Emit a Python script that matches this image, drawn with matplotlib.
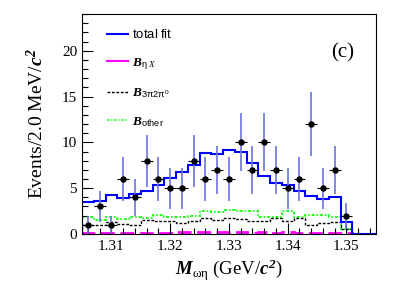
import numpy as np
from matplotlib import pyplot as plt
from matplotlib.lines import Line2D
from matplotlib.ticker import MultipleLocator

plt.rcParams["font.family"] = "Liberation Serif"
plt.rcParams["mathtext.fontset"] = "custom"
plt.rcParams["mathtext.rm"] = "Liberation Serif"
plt.rcParams["mathtext.it"] = "Liberation Serif:italic"
plt.rcParams["mathtext.bf"] = "Liberation Serif:bold"
plt.rcParams["mathtext.bfit"] = "Liberation Serif:italic:bold"
plt.rcParams["mathtext.sf"] = "Liberation Sans"

# bin edges, 2 MeV bins
EDGES = np.round(np.arange(1.305, 1.3551, 0.002), 4)

# data points (bin centres up to 1.350)
DATA_X = [1.306, 1.308, 1.310, 1.312, 1.314, 1.316, 1.318, 1.320, 1.322, 1.324,
          1.326, 1.328, 1.330, 1.332, 1.334, 1.336, 1.338, 1.340, 1.342, 1.344,
          1.346, 1.348, 1.350]
DATA_Y = [1, 3, 1, 6, 4, 8, 6, 5, 5, 8, 6, 7, 6, 10, 7, 10, 7, 5, 6, 12, 5, 7, 2]

TOTAL_FIT = [3.5, 3.6, 4.3, 3.9, 4.4, 4.7, 5.4, 6.1, 6.8, 7.5, 8.8, 8.7, 9.2,
             8.9, 7.7, 6.3, 5.6, 5.3, 4.7, 4.2, 3.8, 4.0, 1.3, 0.0, 0.0]
B_ETAX = [0.1, 0.1, 0.15, 0.1, 0.15, 0.1, 0.15, 0.15, 0.2, 0.2, 0.25, 0.2, 0.2,
          0.2, 0.15, 0.2, 0.15, 0.2, 0.15, 0.15, 0.15, 0.15, 0.1, 0.0, 0.0]
B_3PI = [1.0, 1.0, 1.3, 1.1, 1.0, 1.5, 1.4, 1.4, 1.2, 1.4, 1.7, 1.5, 1.7,
         1.6, 1.4, 1.4, 1.7, 1.4, 1.7, 1.0, 1.2, 1.3, 0.5, 0.0, 0.0]
B_OTHER = [1.8, 1.5, 1.9, 1.6, 1.8, 1.7, 2.1, 1.9, 1.8, 2.0, 2.5, 2.4, 2.6,
           2.5, 2.5, 1.9, 1.8, 2.5, 1.9, 2.1, 2.1, 1.9, 0.5, 0.0, 0.0]

fig = plt.figure(figsize=(4.09, 2.93), dpi=100)
ax = fig.add_axes([0.2005, 0.2014, 0.7185, 0.7506])

green_ls = (0, (1.5, 1.0, 0.8, 1.0))
ax.stairs(B_OTHER, EDGES, color="#22ff22", lw=1.4, linestyle=green_ls)
ax.stairs(B_3PI, EDGES, color="black", lw=1.0, linestyle=(0, (2, 1.2)))
ax.stairs(B_ETAX, EDGES, color="#ff00ff", lw=2.0, linestyle=(0, (5, 2)))
ax.stairs(TOTAL_FIT, EDGES, color="#0000ff", lw=1.5)

err = np.sqrt(DATA_Y)
ax.errorbar(DATA_X, DATA_Y, yerr=err, fmt="none", ecolor="#6a74dc", elinewidth=1.4,
            alpha=0.85, capsize=0)
ax.errorbar(DATA_X, DATA_Y, xerr=0.001, fmt="o", color="black", ms=3.6,
            elinewidth=0.8, capsize=0)

ax.set_xlim(1.305, 1.355)
ax.set_ylim(0, 24)
ax.xaxis.set_major_locator(MultipleLocator(0.01))
ax.xaxis.set_minor_locator(MultipleLocator(0.002))
ax.yaxis.set_major_locator(MultipleLocator(5))
ax.yaxis.set_minor_locator(MultipleLocator(1))
ax.set_xticks([1.31, 1.32, 1.33, 1.34, 1.35])
ax.set_xticklabels(["1.31", "1.32", "1.33", "1.34", "1.35"])
ax.tick_params(which="both", direction="in", labelsize=11, width=0.8)
ax.tick_params(which="major", length=8)
ax.tick_params(which="minor", length=4)
ax.tick_params(axis="x", pad=4)

for s in ax.spines.values():
    s.set_linewidth(0.8)

ax.set_ylabel(r"Events/2.0 MeV/$\mathbfit{c}^{\mathbfit{2}}$", fontsize=14, labelpad=11)
ax.set_xlabel(r"$\mathbfit{M}_{\mathrm{ωη}}$ (GeV/$\mathbfit{c}^{\mathbfit{2}}$)",
              fontsize=13.5, labelpad=4)

ax.text(0.888, 0.823, "(c)", transform=ax.transAxes, fontsize=15, ha="center", va="center")

handles = [
    Line2D([], [], color="#0000ff", lw=1.5),
    Line2D([], [], color="#ff00ff", lw=1.5),
    Line2D([], [], color="black", lw=1.0, linestyle=(0, (2, 1.2))),
    Line2D([], [], color="#22ff22", lw=1.2, linestyle=green_ls),
]
labels = [
    r"$\mathsf{total\ fit}$",
    r"$\mathbfit{B}_{\mathsf{η}\ \mathit{X}}$",
    r"$\mathbfit{B}_{\mathsf{3π2π^{0}}}$",
    r"$\mathbfit{B}_{\mathsf{other}}$",
]
ax.legend(handles, labels, loc="upper left", bbox_to_anchor=(0.045, 0.99),
          frameon=False, fontsize=9.5, handlelength=1.6, handletextpad=0.3,
          labelspacing=1.12)

fig.savefig("out.png", dpi=100)
